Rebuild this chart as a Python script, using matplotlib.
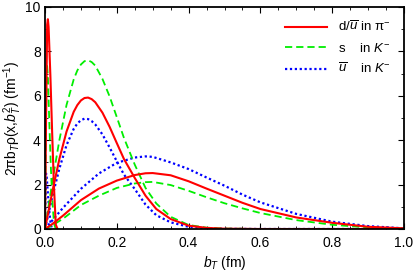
import matplotlib
matplotlib.use("Agg")
import matplotlib.pyplot as plt
from matplotlib.ticker import MultipleLocator, FormatStrFormatter

plt.rcParams['font.family'] = ['Liberation Sans', 'DejaVu Sans']
plt.rcParams['mathtext.fontset'] = 'custom'
plt.rcParams['mathtext.rm'] = 'Liberation Sans'
plt.rcParams['mathtext.it'] = 'Liberation Sans:italic'

# Spike curves near b_T = 0
xa_red = [0, 0.003, 0.006, 0.008, 0.01, 0.015, 0.02, 0.025, 0.03, 0.035]
red_A = [0, 5.0, 9.2, 9.45, 9.1, 6.9, 4.3, 1.9, 0.2, 0]
xa_green = [0, 0.002, 0.004, 0.0055, 0.008, 0.012, 0.016, 0.02, 0.025, 0.03]
green_A = [0, 3.5, 6.8, 7.45, 6.9, 4.8, 2.9, 1.4, 0.25, 0]
xa_blue = [0, 0.0015, 0.003, 0.005, 0.008, 0.012, 0.016, 0.02]
blue_A = [0, 1.6, 2.5, 2.3, 1.6, 0.8, 0.2, 0]

# Curves peaking near b_T = 0.12
xb = [0, 0.02, 0.04, 0.06, 0.08, 0.09, 0.10, 0.11, 0.12, 0.13, 0.14, 0.16,
      0.18, 0.20, 0.22, 0.25, 0.28, 0.31, 0.35, 0.40, 0.45, 0.50, 0.60, 1.0]
red_B = [0, 1.65, 3.15, 4.39, 5.28, 5.58, 5.79, 5.9, 5.92, 5.85, 5.71, 5.24,
         4.6, 3.87, 3.15, 2.3, 1.5, 0.9, 0.45, 0.15, 0.05, 0.015, 0, 0]
green_B = [0, 2.09, 4.0, 5.59, 6.74, 7.14, 7.41, 7.56, 7.6, 7.52, 7.36, 6.76,
           5.97, 5.04, 4.1, 2.9, 1.85, 1.15, 0.55, 0.18, 0.06, 0.02, 0, 0]
blue_B = [0, 1.43, 2.72, 3.78, 4.51, 4.75, 4.9, 4.97, 4.95, 4.86, 4.71, 4.26,
          3.67, 3.05, 2.45, 1.8, 1.1, 0.62, 0.3, 0.1, 0.03, 0.01, 0, 0]

# Broad curves peaking near b_T = 0.28
xc = [0, 0.02, 0.05, 0.10, 0.15, 0.20, 0.25, 0.28, 0.30, 0.35, 0.40, 0.45,
      0.50, 0.55, 0.60, 0.70, 0.80, 0.90, 1.0]
red_C = [0, 0.22, 0.6, 1.3, 1.82, 2.18, 2.43, 2.51, 2.52, 2.42, 2.15, 1.82,
         1.5, 1.18, 0.9, 0.52, 0.28, 0.1, 0.03]
green_C = [0, 0.16, 0.46, 1.08, 1.5, 1.85, 2.05, 2.11, 2.12, 1.98, 1.72, 1.43,
           1.16, 0.93, 0.72, 0.4, 0.19, 0.07, 0.02]
blue_C = [0, 0.38, 0.95, 1.81, 2.5, 2.98, 3.22, 3.27, 3.25, 3.0, 2.7, 2.32,
          1.95, 1.55, 1.2, 0.68, 0.33, 0.13, 0.03]

labels = ['d/$\\overline{u}$ in π$^{-}$', 's    in $K^{-}$', '$\\overline{u}$    in $K^{-}$']

fig = plt.figure(figsize=(4.15, 2.73), dpi=100)
ax = fig.add_axes([45/415, 1-229/273, (404-45)/415, (229-7)/273])

red_kw = dict(color='#ff0000', lw=1.5, ls='-')
green_kw = dict(color='#00ee00', lw=1.3, ls=(0, (4, 2.2)))
blue_kw = dict(color='#0000ff', lw=1.6, ls=(0, (1.0, 1.2)))

ax.plot(xc, blue_C, **blue_kw)
ax.plot(xb, blue_B, **blue_kw)
ax.plot(xa_blue, blue_A, **blue_kw, label=labels[2])
ax.plot(xc, green_C, **green_kw)
ax.plot(xb, green_B, **green_kw)
ax.plot(xa_green, green_A, **green_kw, label=labels[1])
ax.plot(xc, red_C, **red_kw)
ax.plot(xb, red_B, **red_kw)
ax.plot(xa_red, red_A, **red_kw, label=labels[0])

ax.set_xlim(0, 1)
ax.set_ylim(0, 10)
ax.xaxis.set_major_locator(MultipleLocator(0.2))
ax.xaxis.set_minor_locator(MultipleLocator(0.05))
ax.yaxis.set_major_locator(MultipleLocator(2))
ax.yaxis.set_minor_locator(MultipleLocator(1))
ax.xaxis.set_major_formatter(FormatStrFormatter('%.1f'))
ax.yaxis.set_major_formatter(FormatStrFormatter('%d'))
ax.tick_params(which='both', direction='in', top=True, right=True, labelsize=10)
ax.tick_params(axis='x', pad=5)
ax.tick_params(axis='y', pad=3)
ax.tick_params(which='major', length=4, width=0.8)
ax.tick_params(which='minor', length=2.5, width=0.6)
for s in ax.spines.values():
    s.set_linewidth(1.3)

ax.set_xlabel('$b_T$ (fm)', fontsize=10, labelpad=3)
ax.set_ylabel('2πb$_T$ρ(x,$b_T^2$) (fm$^{-1}$)', fontsize=10, labelpad=1)

handles, labs = ax.get_legend_handles_labels()
order = [2, 1, 0]
ax.legend([handles[i] for i in order], [labs[i] for i in order], loc='upper right',
          frameon=False, fontsize=9.5, handlelength=3.2, handletextpad=0.8,
          labelspacing=0.55, borderaxespad=0.6)

fig.savefig('out.png', dpi=100)
